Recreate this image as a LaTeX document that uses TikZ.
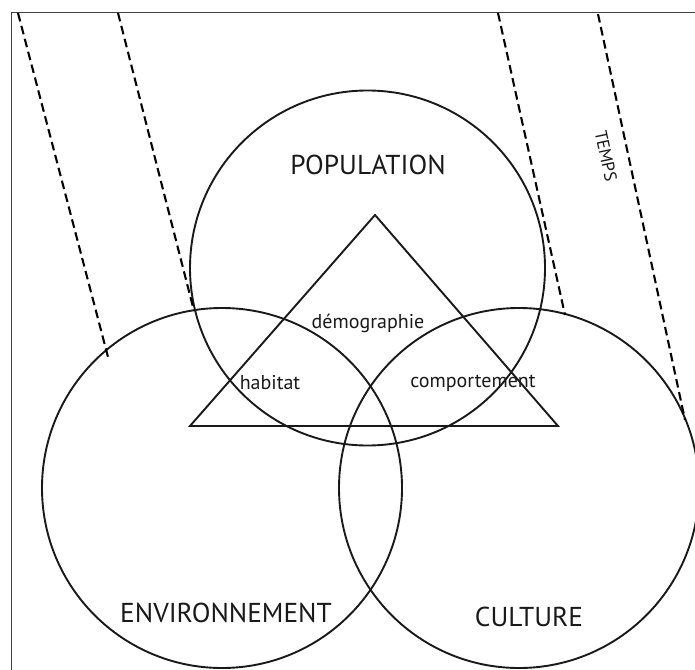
\documentclass[tikz,border=0pt]{standalone}
\usepackage{fontspec}
\setmainfont{PT Sans}
\begin{document}
\begin{tikzpicture}[x=0.75pt,y=-0.75pt,
    cercle/.style={line width=0.05cm, draw=black!90},
    temps/.style={line width=0.055cm, dash pattern=on 6.5pt off 3.5pt},
    grand/.style={font=\fontsize{20.5}{24}\selectfont, text=black!90},
    petit/.style={font=\fontsize{15}{18}\selectfont, text=black!90}]
                    \useasboundingbox (0,0) rectangle (695,670);
                    
                    % Drawing frame
                    \draw [line width=0.025cm, black!75] (11,670) -- (11,12) -- (695,12);%
                    
                    % Drawing circle POPULATION
                    \draw [cercle] (367.5,268) circle (177.5);%
                    
                    % Drawing circle ENVIRONNEMENT
                    \draw [cercle] (222,488) circle (180);%
                    
                    % Drawing circle CULTURE
                    \draw [cercle] (519,488) circle (180);%
                    
                    % Drawing triangle
                    \coordinate (S) at (375,215);%
                    \coordinate (H) at (190,426);%
                    \coordinate (C) at (558,426);%
                    \draw [cercle] (S) -- (H) -- (C) -- cycle;%
                    
                    % Drawing dashed lines (time)
                    \coordinate (t1) at (18,13);   \coordinate (e1) at (108,357);%
                    \coordinate (t2) at (118,13);  \coordinate (e2) at (194,311);%
                    \coordinate (t3) at (498,13);  \coordinate (e3) at (565,315);%
                    \coordinate (t4) at (598,14);  \coordinate (e4) at (685,420);%
                    \draw [temps] (t1) -- (e1);%
                    \draw [temps] (t2) -- (e2);%
                    \draw [temps] (t3) -- (e3);%
                    \draw [temps] (t4) -- (e4);%
                    
                    % Labels
                    \node [grand] (pop) at (368,165) {POPULATION};%
                    \node [grand] (env) at (226,613) {ENVIRONNEMENT};%
                    \node [grand] (cul) at (529,617) {CULTURE};%
                    \node [petit, font=\fontsize{13}{15}\selectfont, rotate=-78] (tps) at (606,156) {TEMPS};%
                    \node [petit] (dem) at (368,323) {démographie};%
                    \node [petit] (hab) at (270,383) {habitat};%
                    \node [petit] (com) at (473,383) {comportement};%
\end{tikzpicture}
\end{document}
